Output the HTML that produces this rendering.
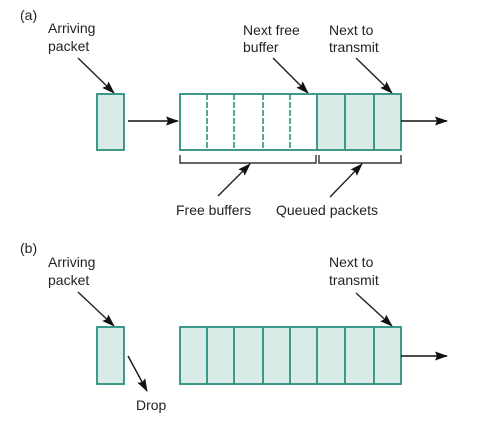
<!DOCTYPE html>
<html><head><meta charset="utf-8"><style>
html,body{margin:0;padding:0;background:#fff;}
svg{display:block;}
text{font-family:"Liberation Sans",sans-serif;font-size:14px;fill:#231f20;}
</style></head><body>
<svg width="492" height="426" viewBox="0 0 492 426">
<defs>
<marker id="ah" markerWidth="13" markerHeight="9" refX="12" refY="4.5" orient="auto" markerUnits="userSpaceOnUse">
<path d="M0,0 L13,4.5 L0,9 L2,4.5 Z" fill="#111"/></marker>
</defs>
<g stroke-width="1.4">
<text x="20" y="20">(a)</text>
<text x="48" y="33">Arriving</text>
<text x="48" y="51">packet</text>
<text x="243" y="35">Next free</text>
<text x="243" y="52">buffer</text>
<text x="329" y="35">Next to</text>
<text x="329" y="52">transmit</text>
<line x1="78" y1="58" x2="114" y2="93" stroke="#222" marker-end="url(#ah)"/>
<line x1="273" y1="58" x2="308" y2="93" stroke="#222" marker-end="url(#ah)"/>
<line x1="356" y1="58" x2="392" y2="93" stroke="#222" marker-end="url(#ah)"/>
<rect x="97" y="94" width="27" height="56" fill="#d8ebe7" stroke="#2a8f80" stroke-width="1.8"/>
<line x1="128" y1="121" x2="178" y2="121" stroke="#111" marker-end="url(#ah)"/>
<rect x="317" y="94" width="84" height="56" fill="#d8ebe7"/>
<rect x="180" y="94" width="221" height="56" fill="none" stroke="#2a8f80" stroke-width="1.8"/>
<g stroke="#2a8f80" stroke-width="1.6" stroke-dasharray="6,2">
<line x1="207" y1="94" x2="207" y2="150"/><line x1="234" y1="94" x2="234" y2="150"/><line x1="263" y1="94" x2="263" y2="150"/><line x1="290" y1="94" x2="290" y2="150"/>
</g>
<g stroke="#2a8f80" stroke-width="1.8">
<line x1="317" y1="94" x2="317" y2="150"/><line x1="345" y1="94" x2="345" y2="150"/><line x1="374" y1="94" x2="374" y2="150"/>
</g>
<line x1="401" y1="121" x2="447" y2="121" stroke="#111" marker-end="url(#ah)"/>
<path d="M180,155 V163 H316 V155" fill="none" stroke="#333"/>
<path d="M319,155 V163 H401 V155" fill="none" stroke="#333"/>
<line x1="218" y1="196" x2="250" y2="164" stroke="#222" marker-end="url(#ah)"/>
<line x1="330" y1="197" x2="362" y2="164" stroke="#222" marker-end="url(#ah)"/>
<text x="176" y="215">Free buffers</text>
<text x="276" y="215">Queued packets</text>
</g>
<g stroke-width="1.4">
<text x="20" y="253">(b)</text>
<text x="48" y="267">Arriving</text>
<text x="48" y="285">packet</text>
<text x="329" y="267">Next to</text>
<text x="329" y="285">transmit</text>
<line x1="78" y1="292" x2="114" y2="326" stroke="#222" marker-end="url(#ah)"/>
<line x1="356" y1="293" x2="392" y2="326" stroke="#222" marker-end="url(#ah)"/>
<rect x="97" y="327" width="27" height="57" fill="#d8ebe7" stroke="#2a8f80" stroke-width="1.8"/>
<line x1="128" y1="356" x2="147" y2="391" stroke="#111" marker-end="url(#ah)"/>
<text x="136" y="410">Drop</text>
<rect x="180" y="327" width="221" height="57" fill="#d8ebe7" stroke="#2a8f80" stroke-width="1.8"/>
<g stroke="#2a8f80" stroke-width="1.8">
<line x1="207" y1="327" x2="207" y2="384"/><line x1="234" y1="327" x2="234" y2="384"/><line x1="263" y1="327" x2="263" y2="384"/><line x1="290" y1="327" x2="290" y2="384"/><line x1="317" y1="327" x2="317" y2="384"/><line x1="345" y1="327" x2="345" y2="384"/><line x1="374" y1="327" x2="374" y2="384"/>
</g>
<line x1="401" y1="356" x2="447" y2="356" stroke="#111" marker-end="url(#ah)"/>
</g>
</svg>
</body></html>
